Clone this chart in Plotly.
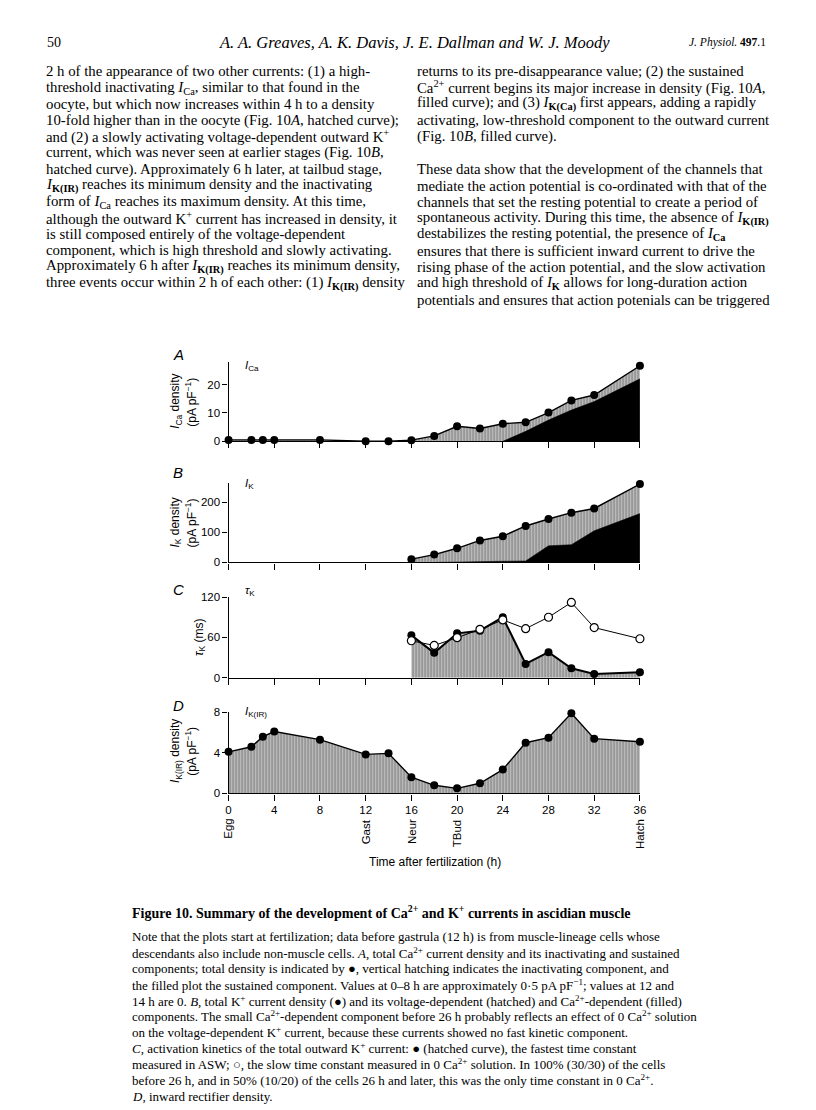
import plotly.graph_objects as go

# the page body adds an 8px margin, so the figure is 8px smaller and coordinates are shifted
PAD = 8
W, H = 816 - PAD, 1110 - PAD

# ---- data ----
hours = [0, 2, 3, 4, 8, 12, 14, 16, 18, 20, 22, 24, 26, 28, 30, 32, 36]
ica_total = [0.5, 0.5, 0.5, 0.5, 0.5, 0, 0, 0.4, 1.9, 5.3, 4.5, 6.2, 6.7, 10.1, 14.4, 16.3, 26.6]
ica_sust_hours = [24, 26, 28, 30, 32, 36]
ica_sustained = [0, 3.5, 7.5, 11, 14, 22]

late_hours = [16, 18, 20, 22, 24, 26, 28, 30, 32, 36]
ik_total = [11, 26, 47, 73, 87, 121, 144, 165, 179, 260]
ikca_hours = [18, 20, 22, 24, 26, 28, 30, 32, 36]
ik_ca_dep = [0, 2, 3, 4, 5, 55, 59, 105, 162]

tau_fast = [63, 37, 66, 70, 90, 20.5, 38, 14, 5.5, 8]
tau_slow = [55, 48, 59.5, 72, 86, 73, 90, 112, 74.6, 58]

ikir = [4.1, 4.6, 5.6, 6.1, 5.3, 3.85, 3.95, 1.6, 0.8, 0.5, 1.0, 2.35, 5.0, 5.5, 7.9, 5.4, 5.1]

x_ticks = list(range(0, 37, 4))
stage_hours = [0, 12, 16, 20, 36]
stage_names = ['Egg', 'Gast', 'Neur', 'TBud', 'Hatch']

left_col = [
    "2 h of the appearance of two other currents: (1) a high-",
    "threshold inactivating <i>I</i><sub>Ca</sub>, similar to that found in the",
    "oocyte, but which now increases within 4 h to a density",
    "10-fold higher than in the oocyte (Fig. 10<i>A</i>, hatched curve);",
    "and (2) a slowly activating voltage-dependent outward K<sup>+</sup>",
    "current, which was never seen at earlier stages (Fig. 10<i>B</i>,",
    "hatched curve). Approximately 6 h later, at tailbud stage,",
    "<i>I</i><sub><b>K(IR)</b></sub> reaches its minimum density and the inactivating",
    "form of <i>I</i><sub>Ca</sub> reaches its maximum density. At this time,",
    "although the outward K<sup>+</sup> current has increased in density, it",
    "is still composed entirely of the voltage-dependent",
    "component, which is high threshold and slowly activating.",
    "Approximately 6 h after <i>I</i><sub><b>K(IR)</b></sub> reaches its minimum density,",
    "three events occur within 2 h of each other: (1) <i>I</i><sub><b>K(IR)</b></sub> density",
]
right_col = [
    "returns to its pre-disappearance value; (2) the sustained",
    "Ca<sup>2+</sup> current begins its major increase in density (Fig. 10<i>A</i>,",
    "filled curve); and (3) <i>I</i><sub><b>K(Ca)</b></sub> first appears, adding a rapidly",
    "activating, low-threshold component to the outward current",
    "(Fig. 10<i>B</i>, filled curve).",
    "These data show that the development of the channels that",
    "mediate the action potential is co-ordinated with that of the",
    "channels that set the resting potential to create a period of",
    "spontaneous activity. During this time, the absence of <i>I</i><sub><b>K(IR)</b></sub>",
    "destabilizes the resting potential, the presence of <i>I</i><sub><b>Ca</b></sub>",
    "ensures that there is sufficient inward current to drive the",
    "rising phase of the action potential, and the slow activation",
    "and high threshold of <i>I</i><sub><b>K</b></sub> allows for long-duration action",
    "potentials and ensures that action potenials can be triggered",
]
caption_title = ("<b>Figure 10. Summary of the development of Ca<sup>2+</sup> and K<sup>+</sup> "
                 "currents in ascidian muscle</b>")
caption = [
    "Note that the plots start at fertilization; data before gastrula (12 h) is from muscle-lineage cells whose",
    "descendants also include non-muscle cells. <i>A</i>, total Ca<sup>2+</sup> current density and its inactivating and sustained",
    "components; total density is indicated by ●, vertical hatching indicates the inactivating component, and",
    "the filled plot the sustained component. Values at 0–8 h are approximately 0·5 pA pF<sup>−1</sup>; values at 12 and",
    "14 h are 0. <i>B</i>, total K<sup>+</sup> current density (●) and its voltage-dependent (hatched) and Ca<sup>2+</sup>-dependent (filled)",
    "components. The small Ca<sup>2+</sup>-dependent component before 26 h probably reflects an effect of 0 Ca<sup>2+</sup> solution",
    "on the voltage-dependent K<sup>+</sup> current, because these currents showed no fast kinetic component.",
    "<i>C</i>, activation kinetics of the total outward K<sup>+</sup> current: ● (hatched curve), the fastest time constant",
    "measured in ASW; ○, the slow time constant measured in 0 Ca<sup>2+</sup> solution. In 100% (30/30) of the cells",
    "before 26 h, and in 50% (10/20) of the cells 26 h and later, this was the only time constant in 0 Ca<sup>2+</sup>.",
    "<i>D</i>, inward rectifier density.",
]

SANS = "Liberation Sans"
SERIF = "Liberation Serif"


def fx(p):
    return (p - PAD) / W


def fy(p):
    return 1 - (p - PAD) / H


hatch = dict(shape='|', fgcolor='black', bgcolor='white', size=3, solidity=0.7)
dot = dict(size=8, color='black')
ring = dict(size=8, color='white', line=dict(color='black', width=1.2))

fig = go.Figure()

# A: I_Ca
fig.add_trace(go.Scatter(x=hours, y=ica_total, mode='lines', line=dict(width=0),
                         fill='tozeroy', fillpattern=hatch, xaxis='x', yaxis='y'))
fig.add_trace(go.Scatter(x=ica_sust_hours, y=ica_sustained, mode='lines', fill='tozeroy',
                         fillcolor='black', line=dict(color='black', width=0.5), xaxis='x', yaxis='y'))
fig.add_trace(go.Scatter(x=hours, y=ica_total, mode='lines+markers', line=dict(color='black', width=1.4),
                         marker=dot, cliponaxis=False, xaxis='x', yaxis='y'))

# B: I_K
fig.add_trace(go.Scatter(x=late_hours, y=ik_total, mode='lines', line=dict(width=0),
                         fill='tozeroy', fillpattern=hatch, xaxis='x2', yaxis='y2'))
fig.add_trace(go.Scatter(x=ikca_hours, y=ik_ca_dep, mode='lines', fill='tozeroy',
                         fillcolor='black', line=dict(color='black', width=0.5), xaxis='x2', yaxis='y2'))
fig.add_trace(go.Scatter(x=late_hours, y=ik_total, mode='lines+markers', line=dict(color='black', width=1.4),
                         marker=dot, cliponaxis=False, xaxis='x2', yaxis='y2'))

# C: tau_K
fig.add_trace(go.Scatter(x=late_hours, y=tau_fast, mode='lines', line=dict(width=0),
                         fill='tozeroy', fillpattern=hatch, xaxis='x3', yaxis='y3'))
fig.add_trace(go.Scatter(x=late_hours, y=tau_fast, mode='lines+markers', line=dict(color='black', width=2),
                         marker=dot, cliponaxis=False, xaxis='x3', yaxis='y3'))
fig.add_trace(go.Scatter(x=late_hours, y=tau_slow, mode='lines+markers', line=dict(color='black', width=1),
                         marker=ring, cliponaxis=False, xaxis='x3', yaxis='y3'))

# D: I_K(IR)
fig.add_trace(go.Scatter(x=hours, y=ikir, mode='lines', line=dict(width=0),
                         fill='tozeroy', fillpattern=hatch, xaxis='x4', yaxis='y4'))
fig.add_trace(go.Scatter(x=hours, y=ikir, mode='lines+markers', line=dict(color='black', width=1.4),
                         marker=dot, cliponaxis=False, xaxis='x4', yaxis='y4'))

# panel geometry in page pixels: (pixel of y=0, pixel of top tick, top tick value, y max, ticks)
panels = [
    (440, 382.6, 20, 28, [0, 10, 20]),
    (562.5, 501.5, 200, 265, [0, 100, 200]),
    (679, 597.5, 120, 120, [0, 60, 120]),
    (796, 714, 8, 8, [0, 4, 8]),
]

axis_font = dict(family=SANS, size=11.5, color='black')
for i, (p0, pt, vt, vmax, ticks) in enumerate(panels, start=1):
    scale = (p0 - pt) / vt
    ptop = p0 - vmax * scale
    sfx = '' if i == 1 else str(i)
    fig.layout['xaxis' + sfx] = dict(
        domain=[fx(228), fx(644)], range=[0, 36], anchor='y' + sfx,
        showline=True, linecolor='black', linewidth=1.2, showgrid=False, zeroline=False,
        ticks='outside', ticklen=6, tickwidth=1.2, tickcolor='black', tickvals=x_ticks,
        showticklabels=(i == 4), tickfont=axis_font)
    fig.layout['yaxis' + sfx] = dict(
        domain=[fy(p0), fy(ptop)], range=[0, vmax], anchor='x' + sfx,
        showline=True, linecolor='black', linewidth=1.2, showgrid=False, zeroline=False,
        ticks='outside', ticklen=5, tickwidth=1.2, tickcolor='black', tickvals=ticks,
        tickfont=axis_font)

annotations = []


def note(text, x, y, size=14, family=SERIF, xanchor='left', yanchor='middle', angle=0,
         xref='paper', yref='paper'):
    annotations.append(dict(text=text, x=x, y=y, xref=xref, yref=yref, xanchor=xanchor,
                            yanchor=yanchor, textangle=angle, showarrow=False,
                            font=dict(family=family, size=size, color='black')))


# header
note("50", fx(42), fy(37), size=14)
note("<i>A. A. Greaves, A. K. Davis, J. E. Dallman and W. J. Moody</i>", fx(416), fy(37),
     size=16.5, xanchor='center')
note("<i>J. Physiol.</i> <b>497</b>.1", fx(774), fy(37), size=11.5, xanchor='right')

# body text
for k, line in enumerate(left_col):
    note(line, fx(41), fy(66 + k * 16.46), size=14.8)
for k, line in enumerate(right_col):
    ypix = 66 + k * 16.46 if k < 5 else 165 + (k - 5) * 16.46
    note(line, fx(417), fy(ypix), size=14.8)

# panel letters and labels
letters = ['A', 'B', 'C', 'D']
letter_y = [352, 472, 590, 707]
labels = ["<i>I</i><sub>Ca</sub>", "<i>I</i><sub>K</sub>", "<i>τ</i><sub>K</sub>", "<i>I</i><sub>K(IR)</sub>"]
label_y = [364, 483, 591, 714]
for k in range(4):
    note("<i>%s</i>" % letters[k], fx(170), fy(letter_y[k]), size=15, family=SANS)
    note(labels[k], fx(243), fy(label_y[k]), size=11.5, family=SANS)

ytitles = [
    ("<i>I</i><sub>Ca</sub> density", "(pA pF<sup>−1</sup>)", 400),
    ("<i>I</i><sub>K</sub> density", "(pA pF<sup>−1</sup>)", 522),
    ("<i>τ</i><sub>K</sub> (ms)", None, 638),
    ("<i>I</i><sub>K(IR)</sub> density", "(pA pF<sup>−1</sup>)", 753),
]
for first, second, yc in ytitles:
    if second is None:
        note(first, fx(199), fy(yc), size=12, family=SANS, xanchor='center', angle=-90)
    else:
        note(first, fx(175), fy(yc), size=12, family=SANS, xanchor='center', angle=-90)
        note(second, fx(190), fy(yc), size=12, family=SANS, xanchor='center', angle=-90)

for h, name in zip(stage_hours, stage_names):
    note(name, h, fy(820), size=11.5, family=SANS, xanchor='center', yanchor='top', angle=-90,
         xref='x4')
note("Time after fertilization (h)", fx(437), fy(865), size=12, family=SANS, xanchor='center')

# caption
note(caption_title, fx(128), fy(916), size=14)
for k, line in enumerate(caption):
    note(line, fx(128), fy(941 + k * 16.1), size=13)

fig.update_layout(width=W, height=H, margin=dict(l=0, r=0, t=0, b=0), showlegend=False,
                  plot_bgcolor='white', paper_bgcolor='white', annotations=annotations)

fig.write_html("out.html")
